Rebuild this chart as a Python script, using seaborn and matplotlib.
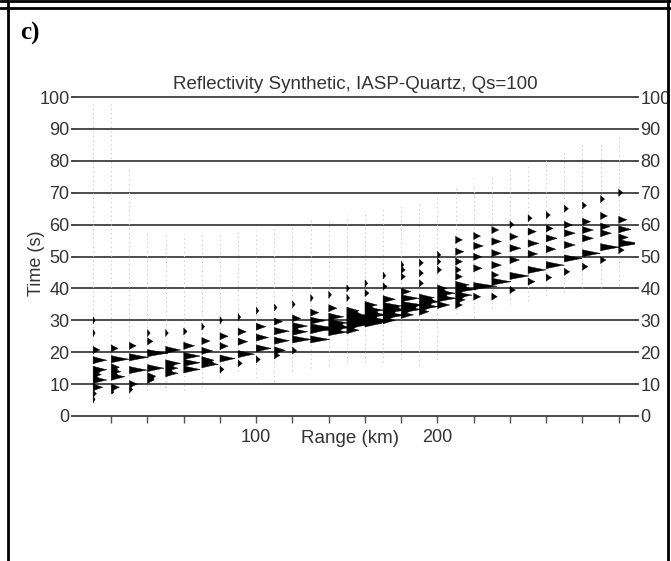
import numpy as np
import pandas as pd
import matplotlib
matplotlib.use("Agg")
import matplotlib.pyplot as plt
from matplotlib.lines import Line2D
import seaborn as sns

# ---- record section: one trace every 10 km ----
distance_km = [10, 20, 30, 40, 50, 60, 70, 80, 90, 100,
               110, 120, 130, 140, 150, 160, 170, 180, 190, 200,
               210, 220, 230, 240, 250, 260, 270, 280, 290, 300]

# visible time window of each trace (s)
trace_start_s = [4, 7, 5.5, 8, 9, 8, 9, 12, 14, 12,
                 11, 14, 15, 16, 17, 17, 17, 18, 16, 18,
                 32, 31, 34, 35, 36, 38, 39, 40, 40, 41]
trace_end_s = [98, 98, 77, 58, 57, 57, 57, 58, 58, 58,
               59, 60, 62, 62, 63, 64, 65, 66, 67, 69,
               72, 73, 75, 77, 79, 81, 83, 85, 86, 88]

# arrival times (s) and relative amplitudes for each trace
arrival_times = [
    [5.2, 7.0, 9.0, 11.3, 13.0, 14.5, 17.5, 20.7, 26.0, 30.0],
    [7.5, 9.0, 12.3, 13.9, 15.3, 17.8, 21.2],
    [8.3, 10.0, 14.4, 18.4, 22.0],
    [11.3, 12.5, 15.0, 19.7, 23.4, 26.0],
    [8.0, 13.4, 15.0, 16.5, 20.7, 26.0],
    [14.6, 16.7, 18.8, 22.0, 26.5],
    [16.2, 17.5, 20.4, 23.5, 28.0],
    [14.6, 18.0, 21.9, 25.0, 30.0],
    [16.5, 19.4, 23.3, 26.4, 31.0],
    [17.7, 21.2, 24.6, 28.0, 33.0],
    [19.0, 20.6, 23.6, 26.6, 29.6, 34.0],
    [20.5, 24.0, 26.4, 28.2, 30.6, 35.0],
    [24.0, 26.9, 27.8, 29.9, 32.4, 37.0],
    [26.3, 27.8, 29.2, 31.1, 33.8, 38.0],
    [26.9, 28.5, 29.6, 30.6, 31.7, 33.0, 37.0, 40.0],
    [29.0, 30.1, 31.7, 33.2, 34.8, 38.5, 41.6],
    [30.0, 31.6, 33.2, 34.5, 36.6, 40.6, 44.0],
    [31.7, 33.4, 34.8, 36.9, 39.0, 43.7, 45.8, 47.4],
    [32.7, 34.3, 35.8, 37.1, 41.6, 44.8, 48.0],
    [34.8, 36.9, 38.5, 40.0, 45.8, 48.4, 50.5],
    [34.8, 36.4, 37.9, 39.7, 41.1, 43.7, 45.8, 48.4, 51.5, 55.2],
    [37.4, 40.7, 46.3, 49.9, 53.3, 56.4],
    [37.4, 42.1, 44.2, 47.3, 51.0, 54.7, 58.3],
    [39.5, 43.9, 48.9, 52.6, 56.2, 60.0],
    [42.1, 45.8, 50.8, 54.1, 57.8, 62.0],
    [43.4, 47.3, 52.3, 55.7, 58.8, 63.0],
    [45.2, 49.4, 53.6, 57.3, 59.9, 65.0],
    [46.8, 51.0, 55.7, 58.3, 60.9, 66.0],
    [48.9, 52.9, 57.3, 59.4, 62.7, 68.0],
    [52.0, 54.1, 56.0, 58.5, 61.5, 70.0],
]
arrival_amps = [
    [0.15, 0.25, 0.7, 1.0, 0.6, 1.0, 1.0, 0.5, 0.15, 0.15],
    [0.2, 0.6, 1.0, 0.7, 0.6, 1.3, 0.5],
    [0.25, 0.6, 1.3, 1.4, 0.5],
    [0.5, 0.6, 1.2, 1.5, 0.4, 0.2],
    [0.2, 0.9, 0.9, 1.1, 1.1, 0.2],
    [1.2, 1.2, 1.2, 0.8, 0.25],
    [1.2, 0.9, 0.8, 0.6, 0.2],
    [0.3, 1.1, 0.6, 0.6, 0.2],
    [0.3, 1.2, 0.7, 0.6, 0.2],
    [0.3, 1.1, 0.9, 0.7, 0.2],
    [0.4, 0.8, 1.1, 1.1, 0.6, 0.2],
    [0.3, 1.4, 1.1, 1.1, 0.6, 0.2],
    [1.4, 1.1, 1.5, 1.1, 0.6, 0.2],
    [1.4, 1.7, 1.4, 1.1, 0.6, 0.2],
    [0.9, 1.5, 1.7, 1.6, 1.3, 0.9, 0.2, 0.2],
    [1.2, 1.7, 1.7, 1.4, 0.9, 0.3, 0.2],
    [0.9, 1.7, 1.7, 1.4, 0.9, 0.3, 0.2],
    [0.9, 1.5, 1.7, 1.3, 0.7, 0.3, 0.3, 0.2],
    [0.7, 1.4, 1.5, 1.1, 0.3, 0.3, 0.3],
    [0.9, 1.4, 1.3, 0.7, 0.3, 0.25, 0.25],
    [0.5, 0.7, 1.2, 1.5, 1.0, 0.5, 0.4, 0.5, 0.6, 0.5],
    [0.5, 1.7, 0.6, 0.6, 0.7, 0.5],
    [0.4, 1.4, 0.5, 0.7, 0.7, 0.7, 0.5],
    [0.4, 1.4, 0.7, 0.8, 0.6, 0.3],
    [0.5, 1.3, 0.7, 0.8, 0.6, 0.3],
    [0.4, 1.3, 0.7, 0.8, 0.5, 0.3],
    [0.4, 1.3, 0.8, 0.8, 0.6, 0.3],
    [0.4, 1.3, 0.8, 0.8, 0.6, 0.3],
    [0.4, 1.4, 0.8, 0.7, 0.5, 0.3],
    [0.4, 1.6, 0.7, 0.9, 0.6, 0.3],
]

title_text = "Reflectivity Synthetic, IASP-Quartz, Qs=100"
panel_tag = "c)"
x_label = "Range (km)"
y_label = "Time (s)"
x_ticks = [20, 40, 60, 80, 100, 120, 140, 160, 180, 200,
           220, 240, 260, 280, 300]
x_tick_labels = ["", "", "", "", "100", "", "", "", "", "200",
                 "", "", "", "", ""]
y_ticks = [0, 10, 20, 30, 40, 50, 60, 70, 80, 90, 100]

GAIN_KM = 7.5        # horizontal deflection per unit amplitude
HALF_WIDTH_S = 1.15  # half duration of each pulse

sns.set_theme(style="white")
plt.rcParams["font.family"] = ["Liberation Sans", "DejaVu Sans"]

W, H = 671, 561
fig = plt.figure(figsize=(W / 100, H / 100), dpi=100)
ax = fig.add_axes([75 / W, 1 - 416 / H, 560 / W, 319 / H])

# faint trace baselines
base = pd.DataFrame({
    "trace": np.repeat(np.arange(len(distance_km)), 2),
    "x": np.repeat(distance_km, 2),
    "t": np.ravel(np.column_stack([trace_start_s, trace_end_s])),
})
sns.lineplot(data=base, x="x", y="t", units="trace", estimator=None,
             orient="y", sort=True, color="#c4c4c4", lw=0.8,
             linestyle=(0, (1.0, 3.0)), ax=ax, zorder=2)


def pulse_train(t, times, amps):
    a = np.zeros_like(t)
    for t0, amp in zip(times, amps):
        u = np.clip(1.0 - np.abs(t - t0) / HALF_WIDTH_S, 0.0, None)
        a += amp * u ** 1.15
    return a


# positive-fill wiggles
for d, t0, t1, times, amps in zip(distance_km, trace_start_s, trace_end_s,
                                  arrival_times, arrival_amps):
    t = np.arange(t0, t1, 0.01)
    a = pulse_train(t, times, amps)
    ax.fill_betweenx(t, d, d + GAIN_KM * a, where=a > 0.01,
                     color="black", lw=0.3, zorder=3)

# horizontal time lines
for yv in y_ticks:
    ax.axhline(yv, color="#2e2e2e", lw=1.2, zorder=1, clip_on=False)

ax.set_xlim(0, 309)
ax.set_ylim(0, 100)
for s in ax.spines.values():
    s.set_visible(False)

ax.set_xticks(x_ticks)
ax.set_xticklabels(x_tick_labels)
ax.set_yticks(y_ticks)
ax.tick_params(axis="x", direction="out", length=5, width=1.0,
               color="#555555", labelsize=13, labelcolor="#333333",
               bottom=True, pad=4)
ax.tick_params(axis="y", direction="out", length=3, width=1.2,
               color="#2e2e2e", labelsize=13, labelcolor="#333333",
               left=True, right=True, labelleft=True, labelright=True, pad=1)
ax.grid(False)

ax.set_xlabel(x_label, fontsize=13.5, color="#333333")
ax.xaxis.set_label_coords(0.491, -0.044)
ax.set_ylabel(y_label, fontsize=13, color="#333333")
ax.yaxis.set_label_coords(-0.053, 0.48)
ax.set_title(title_text, fontsize=13.5, color="#333333", pad=6)

fig.text(20 / W, 1 - 33 / H, panel_tag, family=["Liberation Serif"],
         weight="bold", fontsize=18, va="center", ha="left", color="black")

# panel frame
def frame_line(x0, y0, x1, y1, lw=2.0):
    fig.add_artist(Line2D([x0 / W, x1 / W], [1 - y0 / H, 1 - y1 / H],
                          transform=fig.transFigure, color="black", lw=lw))

frame_line(0, 1, W, 1)
frame_line(0, 8, W, 8)
frame_line(8, 0, 8, H)
frame_line(668, 0, 668, H)

fig.savefig("out.png", dpi=100)
